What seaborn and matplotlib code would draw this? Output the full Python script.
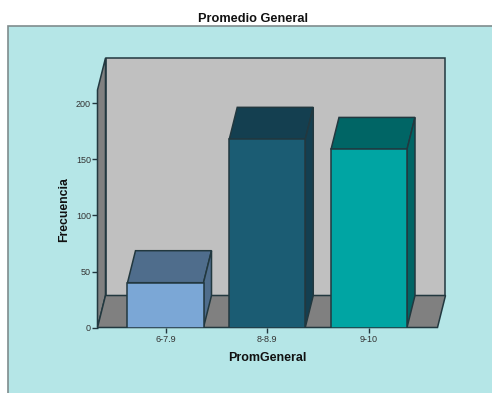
import matplotlib
matplotlib.use("Agg")
import matplotlib.pyplot as plt
import pandas as pd
import seaborn as sns
from matplotlib.patches import Polygon, Rectangle

categories = ["6-7.9", "8-8.9", "9-10"]
counts = [40, 168, 159]
front_colors = ["#7BA7D6", "#1B5C73", "#00A5A3"]
top_colors = ["#4F6D8C", "#143F50", "#006565"]
side_colors = ["#4F6D8C", "#143F50", "#006565"]
y_ticks = [0, 50, 100, 150, 200]

W, H = 492, 393
EDGE = "#22383F"
BG = "#B5E6E7"

sns.set_style("white")
plt.rcParams["font.family"] = ["Liberation Sans", "DejaVu Sans"]
fig = plt.figure(figsize=(W / 100, H / 100), dpi=100, facecolor="white")

# Chart panel behind everything; it runs off the right and bottom edges
fig.add_artist(Rectangle((7.5 / W, 1 - 400 / H), 500 / W, 374 / H, transform=fig.transFigure,
                         facecolor=BG, edgecolor="#7F8C8D", linewidth=1.2, zorder=-1))

# Axes span the front floor edge out to the back wall
left, right, top, bottom = 97.5, 445.5, 58.0, 327.5
ax = fig.add_axes([left / W, 1 - bottom / H, (right - left) / W, (bottom - top) / H])
ax.patch.set_alpha(0)

PX_X = 101.75
PX_Y = 1.12
ax.set_xlim(-68 / PX_X, -68 / PX_X + (right - left) / PX_X)
ax.set_ylim(0, (bottom - top) / PX_Y)
x0, x1 = ax.get_xlim()
dx = 8 / PX_X
dy = 32 / PX_Y
floor_right = x1 - dx
wall_top = ax.get_ylim()[1]
front_top = wall_top - dy


def face(points, color, z):
    ax.add_patch(Polygon(points, closed=True, facecolor=color, edgecolor=EDGE,
                         linewidth=1.1, zorder=z, clip_on=False))


# Back wall, left wall and floor
face([(x0 + dx, dy), (x1, dy), (x1, wall_top), (x0 + dx, wall_top)], "#C0C0C0", 1)
face([(x0, 0), (x0 + dx, dy), (x0 + dx, wall_top), (x0, front_top)], "#808080", 1.1)
face([(x0, 0), (floor_right, 0), (x1, dy), (x0 + dx, dy)], "#808080", 1.2)

# Front faces of the bars
df = pd.DataFrame({"PromGeneral": categories, "Frecuencia": counts})
sns.barplot(data=df, x="PromGeneral", y="Frecuencia", hue="PromGeneral",
            palette=front_colors, width=0.747, saturation=1, legend=False,
            edgecolor=EDGE, linewidth=1.1, zorder=3, ax=ax)
ax.set_xlim(x0, x1)
ax.set_ylim(0, wall_top)

# Top and side faces of the bars
half = 0.747 / 2
for i, v in enumerate(counts):
    a, b = i - half, i + half
    face([(a, v), (b, v), (b + dx, v + dy), (a + dx, v + dy)], top_colors[i], 2.5)
    face([(b, 0), (b + dx, dy), (b + dx, v + dy), (b, v)], side_colors[i], 2.5)

for s in ax.spines.values():
    s.set_visible(False)

ax.set_yticks(y_ticks)
ax.tick_params(axis="y", left=True, length=4.3, width=1, color=EDGE, labelsize=6.5,
               labelcolor="#333333", pad=0.5)
ax.tick_params(axis="x", bottom=True, length=3.6, width=1, color=EDGE, labelsize=6.5,
               labelcolor="#333333", pad=1.5)
ax.set_xlabel("PromGeneral", fontsize=9, fontweight="bold", color="#111111")
ax.set_ylabel("Frecuencia", fontsize=8.8, fontweight="bold", color="#111111")
ax.xaxis.label.set_va("baseline")
ax.xaxis.set_label_coords((267 - left) / (right - left), (bottom - 361) / (bottom - top))
ax.yaxis.label.set_va("center")
ax.yaxis.set_label_coords((64.5 - left) / (right - left), (bottom - 209.5) / (bottom - top))

fig.text(253.5 / W, 1 - 19 / H, "Promedio General", ha="center", va="center",
         fontsize=9.2, fontweight="bold", color="#111111")

fig.savefig("out.png", dpi=100)
